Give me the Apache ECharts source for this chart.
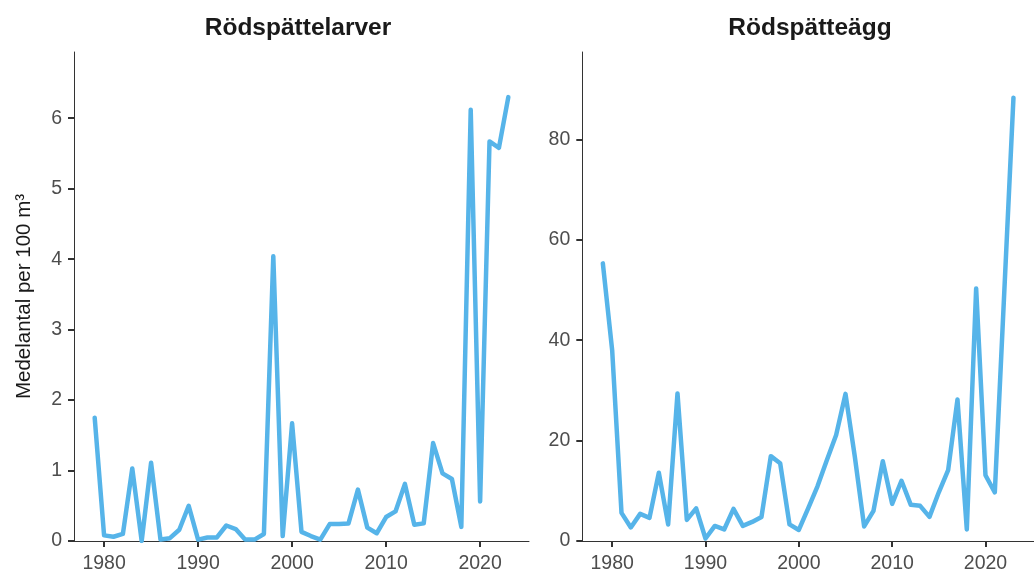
<!DOCTYPE html>
<html>
<head>
<meta charset="utf-8">
<script src="https://cdn.jsdelivr.net/npm/echarts@6/dist/echarts.min.js"></script>
<style>
html,body{margin:0;padding:0;background:#fff;}
#chart{width:1034px;height:574px;}
</style>
</head>
<body>
<div id="chart"></div>
<script>
const years = [1979,1980,1981,1982,1983,1984,1985,1986,1987,1988,1989,1990,1991,1992,1993,1994,1995,1996,1997,1998,1999,2000,2001,2002,2003,2004,2005,2006,2007,2008,2009,2010,2011,2012,2013,2014,2015,2016,2017,2018,2019,2020,2021,2022,2023];
const larvae = [1.75,0.08,0.06,0.10,1.03,0.00,1.11,0.02,0.04,0.16,0.50,0.02,0.05,0.05,0.22,0.17,0.02,0.02,0.10,4.04,0.07,1.67,0.13,0.07,0.02,0.24,0.24,0.25,0.73,0.19,0.11,0.34,0.42,0.81,0.23,0.25,1.39,0.96,0.88,0.20,6.12,0.56,5.67,5.58,6.30];
const eggs = [55.3,38.0,5.6,2.7,5.4,4.6,13.6,3.3,29.4,4.2,6.5,0.5,3.0,2.3,6.4,3.0,3.8,4.8,16.9,15.5,3.3,2.2,6.5,10.9,16.1,21.1,29.3,16.8,2.9,6.0,15.9,7.4,12.0,7.2,7.0,4.8,9.7,14.1,28.2,2.3,50.3,13.1,9.7,null,88.3];
const xTicks = [1980,1990,2000,2010,2020];
const larvaeTicks = [0,1,2,3,4,5,6];
const eggTicks = [0,20,40,60,80];
const titles = ['Rödspättelarver','Rödspätteägg'];
const yTitle = 'Medelantal per 100 m³';

const FONT = "'Liberation Sans', Arial, sans-serif";
const lineColor = '#56B4E9';
const axisColor = '#333333';
const labelColor = '#4D4D4D';

function xAxisCfg(idx){
  return {
    type:'value', gridIndex:idx, min:1976.8, max:2025.2,
    axisLine:{show:true, onZero:false, lineStyle:{color:axisColor, width:1}},
    axisTick:{show:true, inside:false, length:6, customValues:xTicks, lineStyle:{color:axisColor, width:2}},
    axisLabel:{show:true, customValues:xTicks, formatter:v=>String(v), color:labelColor, fontSize:19.5, fontFamily:FONT, margin:13},
    splitLine:{show:false}
  };
}
function yAxisCfg(idx, max, ticks){
  return {
    type:'value', gridIndex:idx, min:0, max:max,
    axisLine:{show:true, onZero:false, lineStyle:{color:axisColor, width:1}},
    axisTick:{show:true, inside:false, length:6, customValues:ticks, lineStyle:{color:axisColor, width:2}},
    axisLabel:{show:true, customValues:ticks, formatter:v=>String(v), color:labelColor, fontSize:19.5, fontFamily:FONT, margin:12},
    splitLine:{show:false}
  };
}

const chart = echarts.init(document.getElementById('chart'), null, {renderer:'canvas'});
chart.setOption({
  animation:false,
  backgroundColor:'#ffffff',
  grid:[
    {left:74, top:52, width:455, height:489},
    {left:582.3, top:52, width:455.3, height:489}
  ],
  xAxis:[xAxisCfg(0), xAxisCfg(1)],
  yAxis:[yAxisCfg(0, 6.94, larvaeTicks), yAxisCfg(1, 97.4, eggTicks)],
  series:[
    {type:'line', xAxisIndex:0, yAxisIndex:0, data:years.map((y,i)=>[y, larvae[i]]),
     showSymbol:false, symbol:'none', lineStyle:{color:lineColor, width:4.5, join:'round', cap:'round'}},
    {type:'line', xAxisIndex:1, yAxisIndex:1, data:years.map((y,i)=>[y, eggs[i]]), connectNulls:true,
     showSymbol:false, symbol:'none', lineStyle:{color:lineColor, width:4.5, join:'round', cap:'round'}}
  ],
  graphic:[
    {type:'text', x:298, y:28, style:{text:titles[0], fontSize:24.5, fontWeight:'bold', fontFamily:FONT, fill:'#1a1a1a', textAlign:'center', textVerticalAlign:'middle'}},
    {type:'text', x:810, y:28, style:{text:titles[1], fontSize:24.5, fontWeight:'bold', fontFamily:FONT, fill:'#1a1a1a', textAlign:'center', textVerticalAlign:'middle'}},
    {type:'text', x:24.5, y:296.5, rotation:Math.PI/2, style:{text:yTitle, fontSize:20.5, fontFamily:FONT, fill:'#1a1a1a', textAlign:'center', textVerticalAlign:'middle'}}
  ]
});
</script>
</body>
</html>
